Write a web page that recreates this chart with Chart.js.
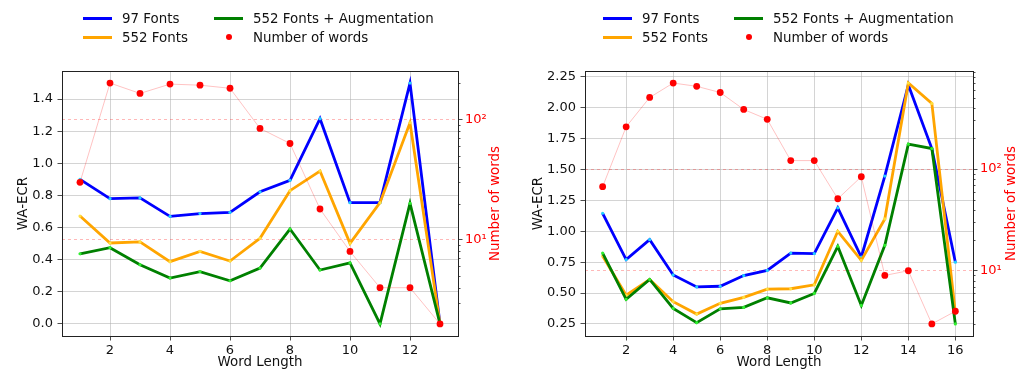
<!DOCTYPE html>
<html><head><meta charset="utf-8">
<script src="https://cdn.jsdelivr.net/npm/chart.js@4.4.1/dist/chart.umd.min.js"></script>
<style>
html,body{margin:0;padding:0;background:#fff;}
body{width:1026px;height:374px;position:relative;overflow:hidden;font-family:"DejaVu Sans",sans-serif;}
canvas{position:absolute;top:0;}
.legend{position:absolute;top:8.5px;display:grid;grid-template-columns:131px auto;grid-auto-rows:19px;font-size:13.4px;color:#111;}
.item{display:flex;align-items:center;white-space:nowrap;}
.sw{width:29px;height:3px;margin-right:10px;}
.dot{width:29px;height:19px;margin-right:10px;position:relative;}
.dot::after{content:"";position:absolute;left:11.5px;top:6.5px;width:6px;height:6px;border-radius:50%;background:red;}
</style></head>
<body>
<canvas id="c1" width="513" height="374" style="left:0"></canvas>
<canvas id="c2" width="513" height="374" style="left:513px"></canvas>
<div class="legend" id="lg1" style="left:83px"></div>
<div class="legend" id="lg2" style="left:603px"></div>
<script>
// ---------- data (left chart) ----------
const wordLengthsA = [1,2,3,4,5,6,7,8,9,10,11,12,13];
const fonts97A   = [0.90, 0.78, 0.785, 0.67, 0.687, 0.695, 0.823, 0.894, 1.278, 0.755, 0.755, 1.50, 0.0];
const fonts552A  = [0.672, 0.504, 0.511, 0.388, 0.452, 0.392, 0.533, 0.83, 0.952, 0.502, 0.755, 1.253, 0.0];
const fontsAugA  = [0.437, 0.475, 0.369, 0.286, 0.326, 0.269, 0.348, 0.591, 0.336, 0.38, 0.0, 0.751, 0.0];
const wordCountA = [30, 200, 164, 196, 192, 181, 84, 63, 18, 8, 4, 4, 2];

// ---------- data (right chart) ----------
const wordLengthsB = [1,2,3,4,5,6,7,8,9,10,11,12,13,14,15,16];
const fonts97B   = [1.146, 0.771, 0.932, 0.647, 0.55, 0.555, 0.642, 0.683, 0.824, 0.82, 1.19, 0.792, 1.447, 2.185, 1.67, 0.75];
const fonts552B  = [0.80, 0.483, 0.61, 0.43, 0.33, 0.417, 0.465, 0.532, 0.535, 0.567, 1.0, 0.765, 1.10, 2.20, 2.035, 0.34];
const fontsAugB  = [0.824, 0.449, 0.61, 0.376, 0.26, 0.373, 0.384, 0.462, 0.42, 0.497, 0.878, 0.40, 0.886, 1.705, 1.67, 0.25];
const wordCountB = [67, 260, 505, 700, 650, 565, 385, 308, 121, 121, 51, 84, 9, 10, 3, 4];

const seriesLabels = ['97 Fonts', '552 Fonts', '552 Fonts + Augmentation', 'Number of words'];
const yTitle = 'WA-ECR', xTitle = 'Word Length', y1Title = 'Number of words';

const FONT = '"DejaVu Sans", sans-serif';
const GRID = 'rgba(176,176,176,0.55)';
const RED = '#ff0000';

function pad(lo, hi){ const d = hi - lo; return [lo - 0.05*d, hi + 0.05*d]; }

const framePlugin = {
  id: 'frame',
  afterDraw(chart){
    const {ctx, chartArea: a} = chart;
    ctx.save();
    // minor ticks on log axis
    const s = chart.scales.y1;
    ctx.strokeStyle = '#222'; ctx.lineWidth = 0.8;
    s.ticks.forEach(t => {
      const e = Math.floor(Math.log10(t.value) + 1e-9);
      const sig = t.value / Math.pow(10, e);
      if (Math.abs(sig - Math.round(sig)) < 1e-6 && Math.round(sig) >= 2 && Math.round(sig) <= 9) {
        const y = Math.round(s.getPixelForValue(t.value)) + 0.5;
        ctx.beginPath(); ctx.moveTo(a.right, y); ctx.lineTo(a.right + 2.5, y); ctx.stroke();
      }
    });
    // frame
    ctx.strokeStyle = '#222'; ctx.lineWidth = 1;
    ctx.strokeRect(Math.round(a.left)+0.5, Math.round(a.top)+0.5, Math.round(a.right-a.left), Math.round(a.bottom-a.top));
    // right axis title (bottom-to-top like matplotlib)
    const o = chart.options.plugins.frame;
    ctx.fillStyle = RED; ctx.font = '13.4px ' + FONT;
    ctx.textAlign = 'center'; ctx.textBaseline = 'middle';
    ctx.translate(o.titleX, (a.top + a.bottom)/2);
    ctx.rotate(-Math.PI/2);
    ctx.fillText(y1Title, 0, 0);
    ctx.restore();
  }
};

function makeChart(id, legendId, xs, s97, s552, sAug, counts, p){
  const pts = arr => xs.map((x,i) => ({x, y: arr[i]}));
  const all = s97.concat(s552, sAug);
  const [ymin, ymax] = pad(Math.min(...all), Math.max(...all));
  const [xmin, xmax] = pad(Math.min(...xs), Math.max(...xs));
  const lmin = Math.log10(Math.min(...counts)), lmax = Math.log10(Math.max(...counts));
  const [l0, l1] = pad(lmin, lmax);
  const mk = (label, data, color, pcolor, order) => ({
    label, data, borderColor: color, backgroundColor: color, borderWidth: 2.8,
    pointRadius: 1.6, pointBackgroundColor: pcolor, pointBorderWidth: 0, pointHoverRadius: 1.6,
    tension: 0, yAxisID: 'y', order
  });
  const datasets = [
    mk(seriesLabels[0], pts(s97), '#0000ff', '#22d0ff', 3),
    mk(seriesLabels[1], pts(s552), '#ffa500', '#ffe040', 2),
    mk(seriesLabels[2], pts(sAug), '#008000', '#30f030', 1),
    { label: seriesLabels[3], data: pts(counts), yAxisID: 'y1', borderColor: 'rgba(255,0,0,0.3)', borderWidth: 0.8,
      pointRadius: 3.4, pointBackgroundColor: RED, pointBorderWidth: 0, pointHoverRadius: 3.4, tension: 0, order: 0 }
  ];
  const tickFont = {family: FONT, size: 13};
  const titleFont = {family: FONT, size: 13.4};
  const chart = new Chart(document.getElementById(id), {
    type: 'line',
    data: { datasets },
    plugins: [framePlugin],
    options: {
      responsive: false, animation: false, events: [],
      layout: { padding: {top: 71, left: 0, right: 0, bottom: 0} },
      plugins: { legend: {display: false}, tooltip: {enabled: false}, frame: {titleX: p.y1TitleX} },
      scales: {
        x: { type: 'linear', min: xmin, max: xmax,
          ticks: { stepSize: 2, includeBounds: false, font: tickFont, color: '#111', padding: 2, maxRotation: 0, autoSkip: false },
          grid: { color: GRID, lineWidth: 1, tickLength: 4.5, tickColor: '#222', tickWidth: 0.8 },
          border: { display: false },
          title: { display: true, text: xTitle, font: titleFont, color: '#111', padding: {top: 0, bottom: 3} },
          afterFit(s){ s.height = 38; } },
        y: { type: 'linear', position: 'left', min: ymin, max: ymax,
          ticks: { stepSize: p.yStep, includeBounds: false, font: tickFont, color: '#111', padding: 4.5,
                   callback: v => v.toFixed(p.yDec) },
          grid: { color: GRID, lineWidth: 1, tickLength: 4.5, tickColor: '#222', tickWidth: 0.8 },
          border: { display: false },
          title: { display: true, text: yTitle, font: titleFont, color: '#111', padding: {top: p.yTitlePad, bottom: 0} },
          afterFit(s){ s.width = p.left; } },
        y1: { type: 'logarithmic', position: 'right', min: Math.pow(10, l0), max: Math.pow(10, l1),
          ticks: { font: tickFont, color: RED, padding: 2.5, autoSkip: false,
                   callback: v => { const l = Math.log10(v); if (Math.abs(l - Math.round(l)) > 1e-9) return '';
                     const sup = {0:'⁰',1:'¹',2:'²',3:'³'}; return '10' + sup[Math.round(l)]; } },
          grid: { drawOnChartArea: true, lineWidth: 1, tickLength: 4.5, tickWidth: 0.8,
                  color: c => { const l = Math.log10(c.tick.value); return Math.abs(l - Math.round(l)) < 1e-9 ? 'rgba(255,0,0,0.28)' : 'rgba(0,0,0,0)'; },
                  tickColor: c => { const l = Math.log10(c.tick.value); return Math.abs(l - Math.round(l)) < 1e-9 ? '#222' : 'rgba(0,0,0,0)'; } },
          border: { display: false, dash: [3, 3] },
          afterFit(s){ s.width = p.right; } }
      }
    }
  });
  // HTML legend built from the chart's datasets (matplotlib ncol=2 ordering)
  const lg = document.getElementById(legendId);
  [0, 2, 1, 3].forEach(i => {
    const ds = chart.data.datasets[i];
    const it = document.createElement('div'); it.className = 'item';
    const sw = document.createElement('span');
    if (ds.yAxisID === 'y1') sw.className = 'dot';
    else { sw.className = 'sw'; sw.style.background = ds.borderColor; }
    const tx = document.createElement('span'); tx.textContent = ds.label;
    it.appendChild(sw); it.appendChild(tx); lg.appendChild(it);
  });
  return chart;
}

makeChart('c1', 'lg1', wordLengthsA, fonts97A, fonts552A, fontsAugA, wordCountA,
  {left: 62, right: 55, yStep: 0.2, yDec: 1, yTitlePad: 15, y1TitleX: 496});
makeChart('c2', 'lg2', wordLengthsB, fonts97B, fonts552B, fontsAugB, wordCountB,
  {left: 72, right: 53, yStep: 0.25, yDec: 2, yTitlePad: 17, y1TitleX: 498.5});
</script>
</body></html>
